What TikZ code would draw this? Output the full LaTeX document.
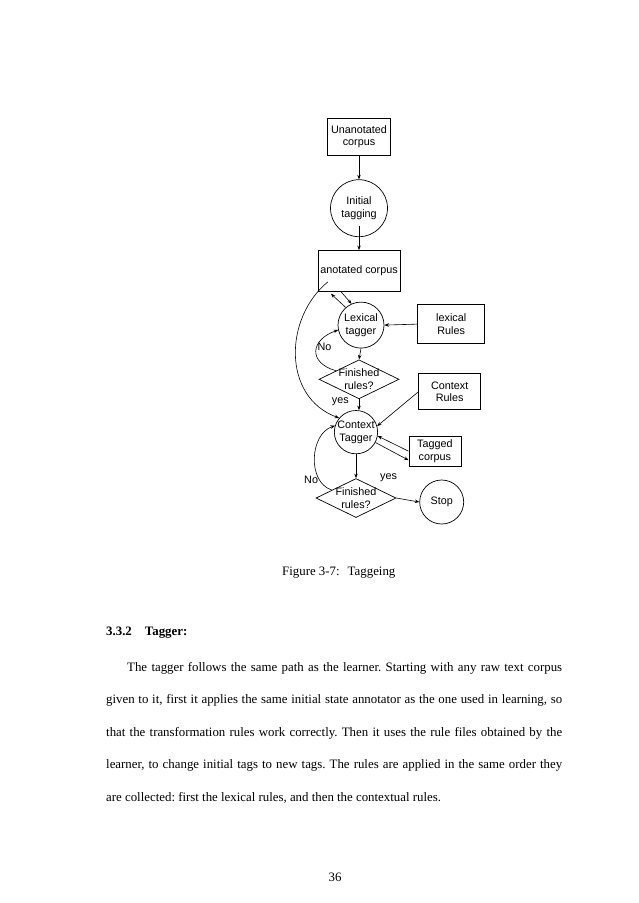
\documentclass[tikz,border=0pt]{standalone}
\usepackage{fontspec}
\setmainfont{Liberation Serif}
\setsansfont{Liberation Sans}
\usepackage{tikz}
\usetikzlibrary{shapes.geometric, arrows.meta, positioning, calc}
\tikzstyle{databox} = [rectangle, draw=black, line width=0.7pt, align=center, inner sep=0pt]
\tikzstyle{roundnode} = [circle, draw=black, line width=0.7pt, align=center, inner sep=0pt]
\tikzstyle{decision} = [diamond, draw=black, line width=0.7pt, inner sep=0pt, minimum width=80pt, minimum height=39pt]
\tikzstyle{arrow} = [line width=0.6pt,-{Stealth[length=4.5pt,width=3.5pt]}]
\tikzstyle{tag} = [inner sep=1pt]
\tikzstyle{pagetext} = [inner sep=0pt, font=\rmfamily\fontsize{12.86}{32.5}\selectfont]

\begin{document}
\frenchspacing
\begin{tikzpicture}[x=1pt, y=-1pt, every node/.style={font=\sffamily\fontsize{10.8}{12.5}\selectfont}]
  \fill[white] (0,0) rectangle (638,903);
  \useasboundingbox (0,0) rectangle (638,903);

  % Main column
  \node[databox, minimum width=63pt, minimum height=37pt] (rawcorpus) at (359,136.5) {Unanotated\\corpus};
  \node[roundnode, minimum size=57pt, below=24pt of rawcorpus] (inittag) {Initial\\tagging};
  \node[databox, minimum width=82pt, minimum height=41pt, below=13pt of inittag] (anncorpus) {anotated corpus};
  \node[roundnode, minimum size=46pt, below=10pt of anncorpus, xshift=2pt] (lextagger) {Lexical\\tagger};
  \node[decision, below=11pt of lextagger, xshift=-2pt, label={[tag, align=center]center:Finished\\rules?}] (lexdone) {};
  \node[roundnode, minimum size=43pt, below=11pt of lexdone, xshift=-3pt] (ctxtagger) {Context\\Tagger};
  \node[decision, below=24pt of ctxtagger, label={[tag, align=center]center:Finished\\rules?}] (ctxdone) {};

  % Side nodes
  \node[databox, minimum width=67pt, minimum height=39pt, right=33pt of lextagger, yshift=1pt] (lexrules) {lexical\\Rules};
  \node[databox, minimum width=62pt, minimum height=36pt, right=19pt of lexdone, yshift=-12.5pt] (ctxrules) {Context\\Rules};
  \node[databox, minimum width=52pt, minimum height=30pt, right=30.5pt of ctxtagger, yshift=-19pt] (tagcorpus) {Tagged\\corpus};
  \node[roundnode, minimum size=44pt, right=23pt of ctxdone, yshift=-4pt] (stop) {Stop};

  % Flow
  \draw[arrow] (rawcorpus.south) -- (inittag.north);
  \draw[arrow] ([yshift=11pt]inittag.south) -- (anncorpus.north);
  \draw[arrow] ([xshift=-18pt]anncorpus.south) -- (lextagger.114);
  \draw[arrow] (lextagger.131) -- ([xshift=-28pt, yshift=-2pt]anncorpus.south);
  \draw[arrow] (lexrules.west) -- (lextagger.east);
  \draw[arrow] (lextagger.south) -- (lexdone.north);
  \draw[arrow] ($(lexdone.north)!0.57!(lexdone.west)$) .. controls +(-28,-8) and +(-28,10) .. (lextagger.192) node[tag, pos=0.6, right=-1pt] {No};
  \draw[arrow] (lexdone.south) -- (lexdone.south |- ctxtagger.north) node[tag, pos=0.2, left=9pt] {yes};
  \draw[arrow] ([xshift=-31pt, yshift=10pt]anncorpus.south) .. controls +(-44,36) and +(-57,-21) .. (ctxtagger.140);
  \draw[arrow] (ctxrules.west) -- (ctxtagger.16);
  \draw[arrow] (tagcorpus.west) -- (ctxtagger.-10);
  \draw[arrow] (ctxtagger.-28) -- ([yshift=-9pt]tagcorpus.west);
  \draw[arrow] (ctxtagger.south) -- (ctxdone.north);
  \draw[arrow] ($(ctxdone.north)!0.6!(ctxdone.west)$) .. controls +(-25,-8) and +(-25,8) .. (ctxtagger.163) node[tag, pos=0.22, left=0pt] {No};
  \draw[arrow] (ctxdone.east) -- (stop.west) node[tag, pos=0, above left=15pt and -2pt] {yes};

  % Page text
  \node[pagetext, anchor=base west] (caption) at (282,575) {Figure 3-7:\hspace{8pt}Taggeing};
  \node[pagetext, anchor=base west] (heading) at (106,635) {\textbf{3.3.2}\hspace{13pt}\textbf{Tagger:}};
  \node[pagetext, anchor=base west] (para) at (106,671) {\parbox[t]{456pt}{\spaceskip=3.2pt plus 3pt minus 1.6pt
    \makebox[456pt][s]{\hspace*{21pt}The tagger follows the same path as the learner. Starting with any raw text corpus}\par
    \makebox[456pt][s]{given to it, first it applies the same initial state annotator as the one used in learning, so}\par
    \makebox[456pt][s]{that the transformation rules work correctly. Then it uses the rule files obtained by the}\par
    \makebox[456pt][s]{learner, to change initial tags to new tags. The rules are applied in the same order they}\par
    are collected: first the lexical rules, and then the contextual rules.}};
  \node[pagetext, anchor=base] (pagenum) at (335,881) {36};
\end{tikzpicture}
\end{document}
